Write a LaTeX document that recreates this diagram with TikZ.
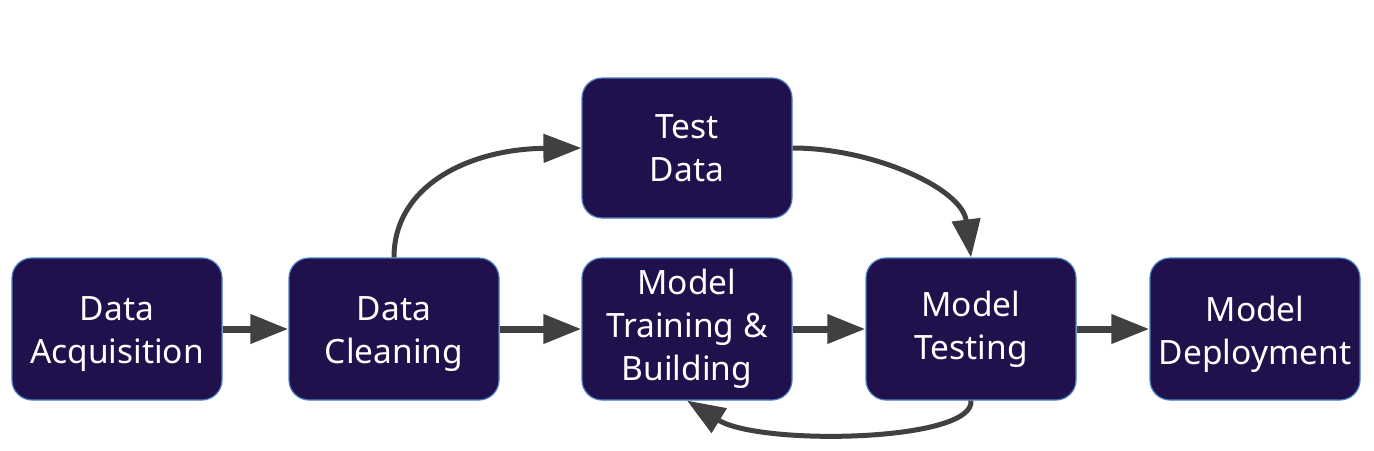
\documentclass[tikz,border=0pt]{standalone}
\usepackage{fontspec}
\setmainfont{Noto Sans}
\usetikzlibrary{arrows.meta}
\definecolor{boxfill}{HTML}{20104B}
\definecolor{boxline}{HTML}{4A7FC0}
\definecolor{arrowcol}{HTML}{404040}
\begin{document}
\begin{tikzpicture}[x=1pt,y=-1pt,
  stagebox/.style={draw=boxline, line width=1.2pt, fill=boxfill, rounded corners=20pt,
    minimum width=210pt, minimum height=142pt, inner sep=0pt, align=center,
    text=white, font=\fontsize{33.5}{43}\selectfont},
  lowtext/.style={label={[text=white, align=center, inner sep=0pt,
    font=\fontsize{33.5}{43}\selectfont, yshift=-5pt]center:#1}},
  flow/.style={draw=arrowcol, line width=7pt, -{Triangle[length=38pt,width=28pt]}},
  loopflow/.style={draw=arrowcol, line width=5pt, -{Triangle[length=38pt,width=28pt]}}
]
\useasboundingbox (0,0) rectangle (1374,450);
\node[stagebox, lowtext={Data\\Acquisition}] (acq) at (117,329) {};
\node[stagebox, lowtext={Data\\Cleaning}] (clean) at (394,329) {};
\node[stagebox] (train) at (687,329) {Model\\Training \&\\Building};
\node[stagebox, minimum height=140pt] (test) at (687,148) {Test\\Data};
\node[stagebox] (mtest) at (971,329) {Model\\Testing};
\node[stagebox, lowtext={Model\\Deployment}] (deploy) at (1255,329) {};

\draw[flow] (acq) -- (clean);
\draw[flow] (clean) -- (train);
\draw[flow] (train) -- (mtest);
\draw[flow] (mtest) -- (deploy);

\draw[loopflow] (clean.north) .. controls (394,185) and (470,149) .. (test.west);
\draw[loopflow] (test.east) .. controls (872,148) and (962,188) .. (mtest.north);
\draw[loopflow] (mtest.south) .. controls (975,442) and (760,446) .. (train.south);
\end{tikzpicture}
\end{document}
